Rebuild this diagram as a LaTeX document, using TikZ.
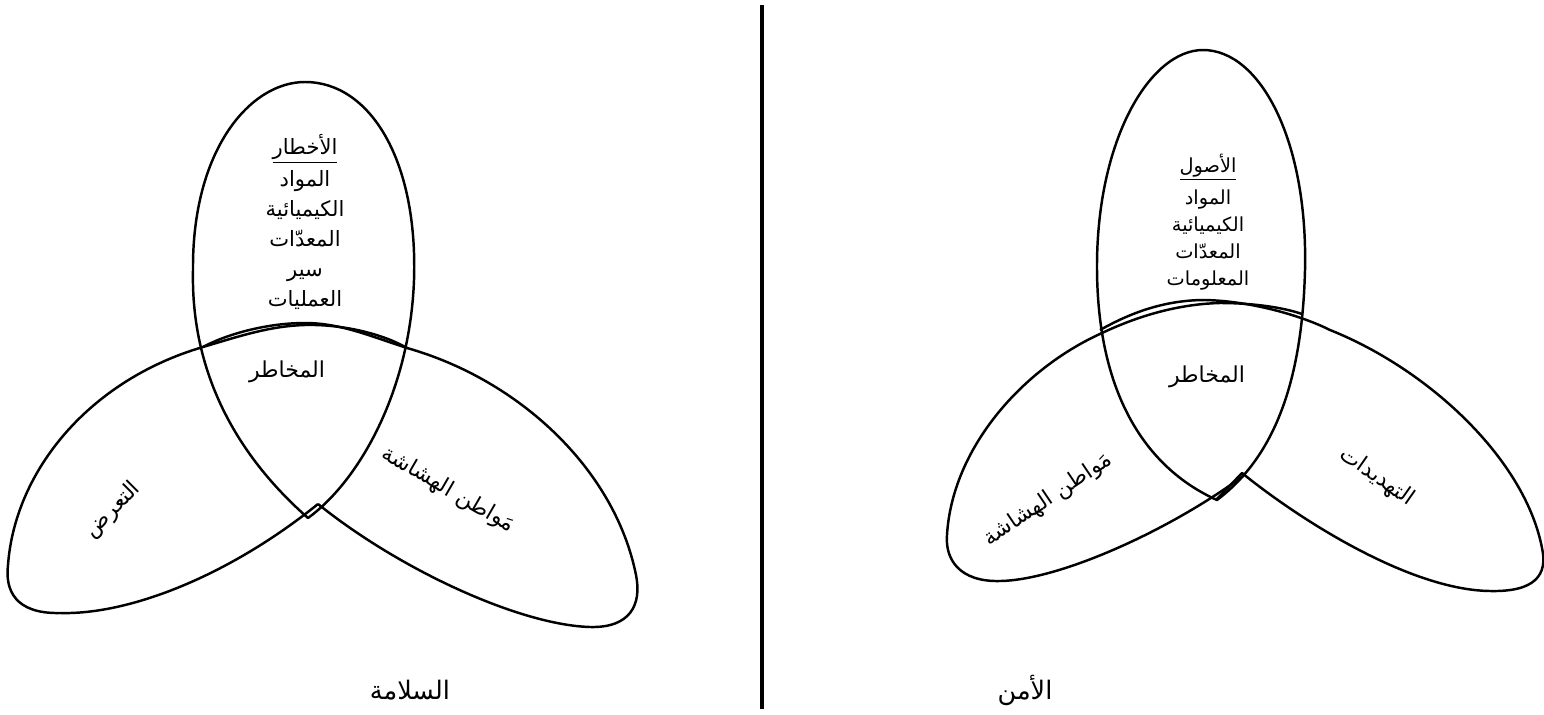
\documentclass[tikz,border=0pt]{standalone}
\usepackage{fontspec}
\usepackage{tikz}
\TeXXeTstate=1
\newfontfamily\arabicfont[Script=Arabic]{DejaVu Sans}
\tikzset{
  petal/.style   = {line width=1.4pt, line join=round},
  divider/.style = {line width=2.4pt},
  lbl/.style     = {font=\arabicfont\fontsize{12.5}{14}\selectfont, inner sep=0pt},
  listlbl/.style = {lbl, align=center, font=\arabicfont\fontsize{12}{17}\selectfont},
  smalllist/.style = {lbl, align=center, font=\arabicfont\fontsize{11}{15.3}\selectfont},
  title/.style   = {lbl, font=\arabicfont\fontsize{14.5}{16}\selectfont},
}

\begin{document}
\begin{tikzpicture}[x=0.02cm, y=-0.02cm]
  \useasboundingbox (0,0) rectangle (1544,714);

  % safety (left)
  \coordinate (tipS) at (318,504);
  \draw[petal] (308,518) .. controls (265,480) and (190,400) .. (193,270)
    .. controls (192,150) and (250,82) .. (305,82)
    .. controls (370,82) and (418,160) .. (414,280)
    .. controls (410,390) and (360,480) .. (308,518) -- cycle;
  \draw[petal] (tipS) .. controls (230,575) and (130,615) .. (60,613)
    .. controls (15,614) and (5,590) .. (8,565)
    .. controls (15,470) and (90,380) .. (203,347)
    .. controls (240,336) and (270,326) .. (305,325)
    .. controls (345,324) and (385,335) .. (407,348);
  \draw[petal] (tipS) .. controls (400,570) and (520,625) .. (590,627)
    .. controls (630,628) and (642,605) .. (636,575)
    .. controls (615,470) and (520,380) .. (407,348)
    .. controls (370,336) and (340,323) .. (305,323)
    .. controls (265,323) and (225,335) .. (203,347);

  \node[listlbl] (hazards) at (305,222) {\beginR\underline{الأخطار}\endR\\[1pt]
    \beginR المواد\endR\\ \beginR الكيميائية\endR\\ \beginR المعدّات\endR\\
    \beginR سير\endR\\ \beginR العمليات\endR};
  \node[lbl] (riskS) at (287,372) {\beginR المخاطر\endR};
  \node[lbl, rotate=45] (exposure) at (113,510) {\beginR التعرض\endR};
  \node[lbl, rotate=-30] (vulnS) at (448,490) {\beginR مَواطن الهشاشة\endR};
  \node[title] (safety) at (410,690) {\beginR السلامة\endR};

  % divider
  \coordinate (divTop) at (762,5);
  \coordinate (divBot) at (762,709);
  \draw[divider] (divTop) -- (divBot);

  % security (right)
  \coordinate (tipA) at (1243,476);
  \draw[petal] (1217,500) .. controls (1150,470) and (1098,400) .. (1097,270)
    .. controls (1096,140) and (1150,50) .. (1203,50)
    .. controls (1260,50) and (1308,140) .. (1305,270)
    .. controls (1302,390) and (1270,460) .. (1217,500) -- cycle;
  \draw[petal] (tipA) .. controls (1170,530) and (1060,580) .. (1000,581)
    .. controls (960,582) and (945,560) .. (947,535)
    .. controls (952,450) and (1020,370) .. (1102,333)
    .. controls (1140,315) and (1180,304) .. (1220,303)
    .. controls (1255,303) and (1285,308) .. (1302,314);
  \draw[petal] (1216,500) -- (1242,473)
    .. controls (1300,520) and (1410,590) .. (1490,591)
    .. controls (1535,592) and (1548,575) .. (1542,548)
    .. controls (1525,460) and (1430,370) .. (1330,330)
    .. controls (1300,315) and (1250,301) .. (1205,300)
    .. controls (1160,300) and (1125,316) .. (1100,330);

  \node[smalllist] (assets) at (1208,222) {\beginR\underline{الأصول}\endR\\[3pt]
    \beginR المواد\endR\\ \beginR الكيميائية\endR\\ \beginR المعدّات\endR\\
    \beginR المعلومات\endR};
  \node[lbl] (riskA) at (1207,377) {\beginR المخاطر\endR};
  \node[lbl, rotate=34] (vulnA) at (1048,500) {\beginR مَواطن الهشاشة\endR};
  \node[lbl, rotate=-35] (threats) at (1377,477) {\beginR التهديدات\endR};
  \node[title] (security) at (1025,690) {\beginR الأمن\endR};
\end{tikzpicture}
\end{document}
